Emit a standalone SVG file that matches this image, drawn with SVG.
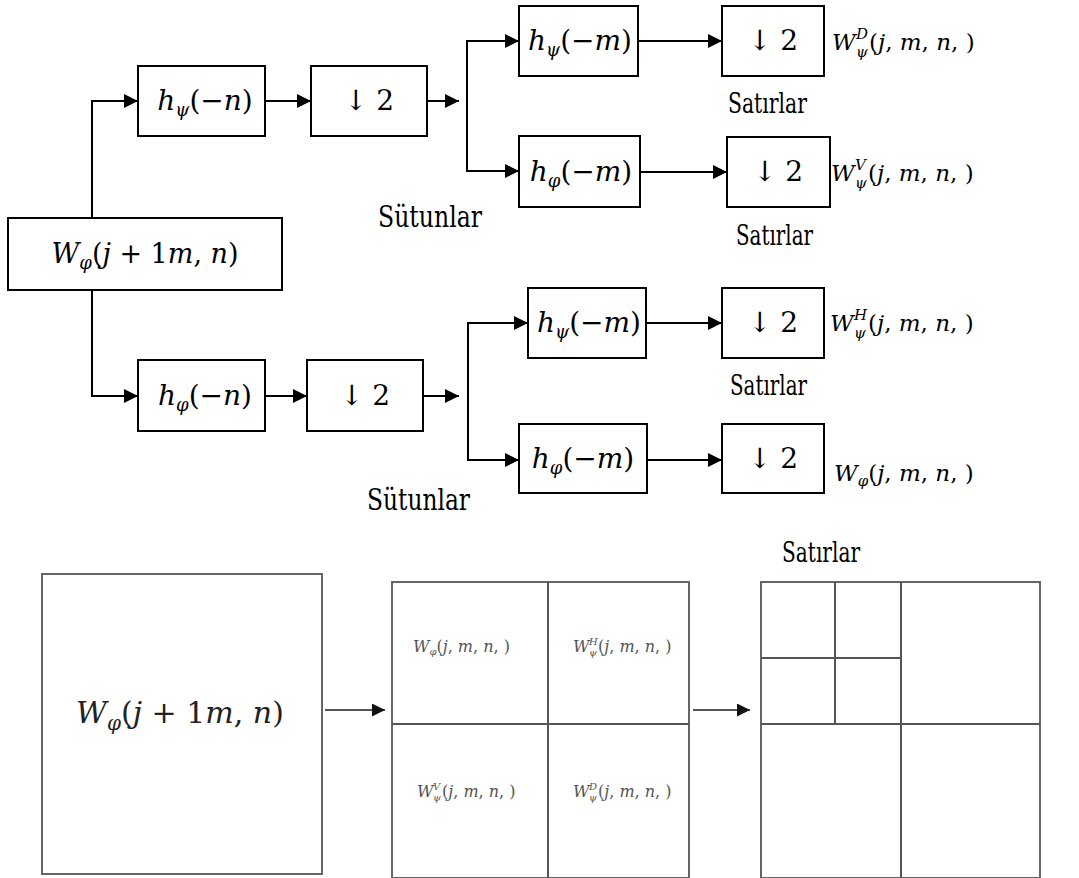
<svg xmlns="http://www.w3.org/2000/svg" width="1079" height="878" viewBox="0 0 1079 878">
<style>
.box{fill:#fff;stroke:#000;stroke-width:2}
.gbox{fill:none;stroke:#666;stroke-width:2}
.con{fill:none;stroke:#000;stroke-width:2}
.gcon{fill:none;stroke:#555;stroke-width:2}
text{font-family:'DejaVu Serif',serif}
.m{font-size:28px;fill:#000}
.i{font-style:italic}
.s{font-size:18px}
.r{font-size:23px}
.rs{font-size:15px}
.lab{fill:#000}
.g{fill:#555;font-size:16px}
.gs{font-size:10px}
</style>
<defs>
<marker id="ah" markerUnits="userSpaceOnUse" markerWidth="16" markerHeight="16" refX="14" refY="7" orient="auto">
<path d="M0,0 L14,7 L0,14 Z" fill="#000"/>
</marker>
<marker id="gah" markerUnits="userSpaceOnUse" markerWidth="16" markerHeight="16" refX="13" refY="6.5" orient="auto">
<path d="M0,0 L13,6.5 L0,13 Z" fill="#111"/>
</marker>
</defs>
<rect width="1079" height="878" fill="#fff"/>

<g id="connectors">
<path class="con" d="M92 218 V101 H138" marker-end="url(#ah)"/>
<path class="con" d="M265 101 H311" marker-end="url(#ah)"/>
<path class="con" d="M427 101 H459" marker-end="url(#ah)"/>
<path class="con" d="M467 101 V41 H519" marker-end="url(#ah)"/>
<path class="con" d="M467 101 V171 H519" marker-end="url(#ah)"/>
<path class="con" d="M638 41 H722" marker-end="url(#ah)"/>
<path class="con" d="M640 172 H727" marker-end="url(#ah)"/>
<path class="con" d="M92 290 V396 H138" marker-end="url(#ah)"/>
<path class="con" d="M265 396 H307" marker-end="url(#ah)"/>
<path class="con" d="M423 396 H459" marker-end="url(#ah)"/>
<path class="con" d="M468 396 V323 H528" marker-end="url(#ah)"/>
<path class="con" d="M468 396 V460 H519" marker-end="url(#ah)"/>
<path class="con" d="M646 323 H722" marker-end="url(#ah)"/>
<path class="con" d="M647 460 H722" marker-end="url(#ah)"/>
<path class="gcon" d="M325 710 H385" marker-end="url(#gah)"/>
<path class="gcon" d="M693 710 H750" marker-end="url(#gah)"/>
</g>

<g id="n_input">
<rect class="box" x="8" y="218" width="274" height="72"/>
<text class="m" x="145" y="263" text-anchor="middle" style="font-size:27px"><tspan class="i">W</tspan><tspan class="i s" dy="6">φ</tspan><tspan dy="-6">(</tspan><tspan class="i">j</tspan> + 1<tspan class="i">m</tspan>, <tspan class="i">n</tspan>)</text>
</g>

<g id="n_hpsi_n">
<rect class="box" x="138" y="66" width="127" height="70"/>
<text class="m" x="205" y="110" text-anchor="middle"><tspan class="i">h</tspan><tspan class="i s" dy="6">ψ</tspan><tspan dy="-6">(−</tspan><tspan class="i">n</tspan>)</text>
</g>
<g id="n_down1">
<rect class="box" x="311" y="66" width="116" height="70"/>
<text class="m" x="369" y="110" text-anchor="middle">↓ 2</text>
</g>
<g id="n_hpsi_m1">
<rect class="box" x="519" y="6" width="119" height="70"/>
<text class="m" x="580" y="50" text-anchor="middle"><tspan class="i">h</tspan><tspan class="i s" dy="6">ψ</tspan><tspan dy="-6">(−</tspan><tspan class="i">m</tspan>)</text>
</g>
<g id="n_down_D">
<rect class="box" x="722" y="6" width="102" height="70"/>
<text class="m" x="773" y="50" text-anchor="middle">↓ 2</text>
</g>
<g id="n_hphi_m1">
<rect class="box" x="519" y="136" width="121" height="71"/>
<text class="m" x="581" y="181" text-anchor="middle"><tspan class="i">h</tspan><tspan class="i s" dy="6">φ</tspan><tspan dy="-6">(−</tspan><tspan class="i">m</tspan>)</text>
</g>
<g id="n_down_V">
<rect class="box" x="727" y="137" width="103" height="70"/>
<text class="m" x="778" y="181" text-anchor="middle">↓ 2</text>
</g>

<g id="n_hphi_n">
<rect class="box" x="138" y="360" width="127" height="71"/>
<text class="m" x="205" y="405" text-anchor="middle"><tspan class="i">h</tspan><tspan class="i s" dy="6">φ</tspan><tspan dy="-6">(−</tspan><tspan class="i">n</tspan>)</text>
</g>
<g id="n_down2">
<rect class="box" x="307" y="360" width="116" height="71"/>
<text class="m" x="365" y="405" text-anchor="middle">↓ 2</text>
</g>
<g id="n_hpsi_m2">
<rect class="box" x="528" y="288" width="118" height="70"/>
<text class="m" x="589" y="332" text-anchor="middle"><tspan class="i">h</tspan><tspan class="i s" dy="6">ψ</tspan><tspan dy="-6">(−</tspan><tspan class="i">m</tspan>)</text>
</g>
<g id="n_down_H">
<rect class="box" x="722" y="288" width="102" height="70"/>
<text class="m" x="773" y="332" text-anchor="middle">↓ 2</text>
</g>
<g id="n_hphi_m2">
<rect class="box" x="519" y="424" width="128" height="69"/>
<text class="m" x="583" y="468" text-anchor="middle"><tspan class="i">h</tspan><tspan class="i s" dy="6">φ</tspan><tspan dy="-6">(−</tspan><tspan class="i">m</tspan>)</text>
</g>
<g id="n_down_A">
<rect class="box" x="722" y="424" width="102" height="69"/>
<text class="m" x="773" y="468" text-anchor="middle">↓ 2</text>
</g>

<g id="labels">
<text class="m r" x="832" y="50"><tspan class="i">W</tspan><tspan class="i rs" x="856" y="39">D</tspan><tspan class="i rs" x="856" y="57">ψ</tspan><tspan x="869" y="50">(</tspan><tspan class="i">j</tspan>, <tspan class="i">m</tspan>, <tspan class="i">n</tspan>, )</text>
<text class="m r" x="831" y="181"><tspan class="i">W</tspan><tspan class="i rs" x="855" y="170">V</tspan><tspan class="i rs" x="855" y="188">ψ</tspan><tspan x="868" y="181">(</tspan><tspan class="i">j</tspan>, <tspan class="i">m</tspan>, <tspan class="i">n</tspan>, )</text>
<text class="m r" x="830" y="331"><tspan class="i">W</tspan><tspan class="i rs" x="854" y="320">H</tspan><tspan class="i rs" x="854" y="338">ψ</tspan><tspan x="868" y="331">(</tspan><tspan class="i">j</tspan>, <tspan class="i">m</tspan>, <tspan class="i">n</tspan>, )</text>
<text class="m r" x="834" y="481"><tspan class="i">W</tspan><tspan class="i rs" dy="5">φ</tspan><tspan dy="-5">(</tspan><tspan class="i">j</tspan>, <tspan class="i">m</tspan>, <tspan class="i">n</tspan>, )</text>
<text class="lab" x="378" y="227" style="font-size:29px" textLength="104" lengthAdjust="spacingAndGlyphs">Sütunlar</text>
<text class="lab" x="367" y="510" style="font-size:29px" textLength="103" lengthAdjust="spacingAndGlyphs">Sütunlar</text>
<text class="lab" x="728" y="113" style="font-size:27px" textLength="79" lengthAdjust="spacingAndGlyphs">Satırlar</text>
<text class="lab" x="736" y="245" style="font-size:27px" textLength="77" lengthAdjust="spacingAndGlyphs">Satırlar</text>
<text class="lab" x="730" y="395" style="font-size:27px" textLength="77" lengthAdjust="spacingAndGlyphs">Satırlar</text>
<text class="lab" x="782" y="562" style="font-size:27px" textLength="78" lengthAdjust="spacingAndGlyphs">Satırlar</text>
</g>

<g id="n_image">
<rect class="gbox" x="42" y="574" width="280" height="300"/>
<text class="m" x="180" y="723" text-anchor="middle" style="font-size:30px;fill:#222"><tspan class="i">W</tspan><tspan class="i" dy="7" style="font-size:20px">φ</tspan><tspan dy="-7">(</tspan><tspan class="i">j</tspan> + 1<tspan class="i">m</tspan>, <tspan class="i">n</tspan>)</text>
</g>

<g id="n_level1">
<rect class="gbox" x="392" y="582" width="297" height="296"/>
<path class="gcon" d="M548 582 V878 M392 724 H689"/>
<text class="m g" x="413" y="652"><tspan class="i">W</tspan><tspan class="i gs" dy="3">φ</tspan><tspan dy="-3">(</tspan><tspan class="i">j</tspan>, <tspan class="i">m</tspan>, <tspan class="i">n</tspan>, )</text>
<text class="m g" x="573" y="652"><tspan class="i">W</tspan><tspan class="i gs" x="589" y="645">H</tspan><tspan class="i gs" x="589" y="656">ψ</tspan><tspan x="598" y="652">(</tspan><tspan class="i">j</tspan>, <tspan class="i">m</tspan>, <tspan class="i">n</tspan>, )</text>
<text class="m g" x="417" y="797"><tspan class="i">W</tspan><tspan class="i gs" x="433" y="790">V</tspan><tspan class="i gs" x="433" y="801">ψ</tspan><tspan x="442" y="797">(</tspan><tspan class="i">j</tspan>, <tspan class="i">m</tspan>, <tspan class="i">n</tspan>, )</text>
<text class="m g" x="573" y="797"><tspan class="i">W</tspan><tspan class="i gs" x="589" y="790">D</tspan><tspan class="i gs" x="589" y="801">ψ</tspan><tspan x="598" y="797">(</tspan><tspan class="i">j</tspan>, <tspan class="i">m</tspan>, <tspan class="i">n</tspan>, )</text>
</g>

<g id="n_level2">
<rect class="gbox" x="761" y="582" width="279" height="296"/>
<path class="gcon" d="M901 582 V878 M761 724 H1040 M835 582 V724 M761 658 H901"/>
</g>
</svg>
